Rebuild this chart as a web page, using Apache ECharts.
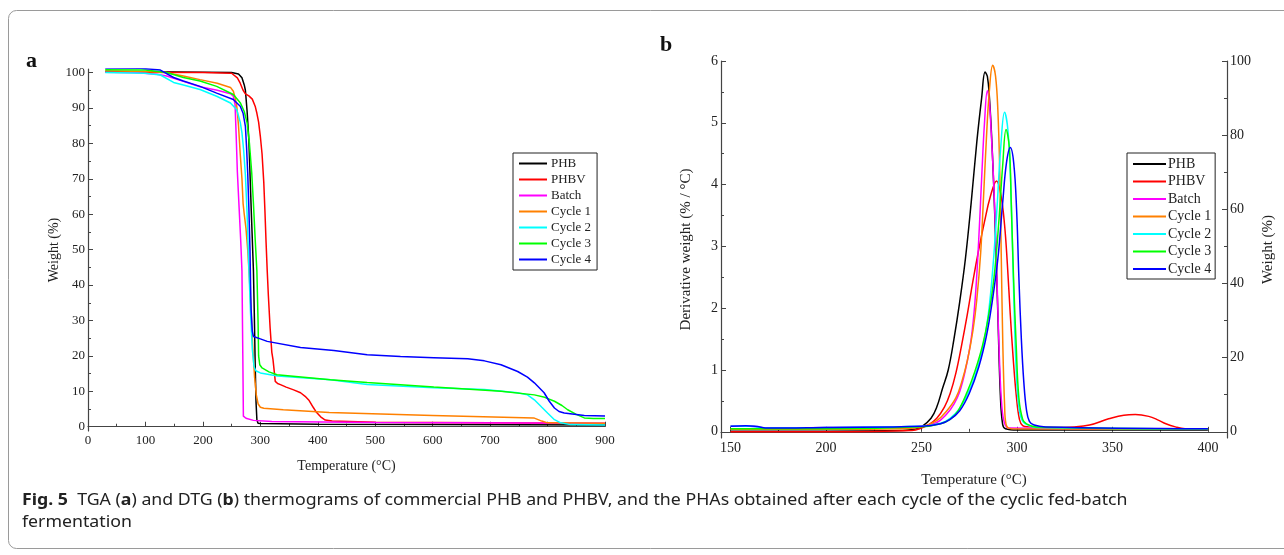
<!DOCTYPE html>
<html>
<head>
<meta charset="utf-8">
<script src="https://cdn.jsdelivr.net/npm/echarts@6/dist/echarts.min.js"></script>
<style>
  html, body { margin: 0; padding: 0; background: #fff; }
  #chart { width: 1284px; height: 555px; }
</style>
</head>
<body>
<div id="chart"></div>
<script>
// names + colours
const seriesNames = ['PHB', 'PHBV', 'Batch', 'Cycle 1', 'Cycle 2', 'Cycle 3', 'Cycle 4']
const seriesColors = ['#000000', '#ff0000', '#ff00ff', '#ff8000', '#00ffff', '#00ff00', '#0000ff']

// (a) TGA: [temperature, weight %]
const tgaPHB = [[30,100.2],[100,100.2],[200,100.1],[250,100],[262,99.6],[268,98.5],[272,96.5],[274,95],[277,89],[280,81],[284,62],[288,44],[289.5,32],[291,18],[292.5,7],[294,2],[296,1],[300,0.9],[400,0.7],[600,0.6],[900,0.5]]
const tgaPHBV = [[30,100.1],[200,100],[250,99.8],[260,98.5],[265,97],[270,95],[274,94],[280,93.4],[286,92.5],[291,90.5],[294,88.5],[297,86],[300,82],[303,77],[306,69],[308,61],[310,52],[312,44],[314,37],[317,28],[320,21],[322,19],[324,16],[326,12.8],[330,12.2],[335,11.9],[345,11.2],[358,10.4],[370,9.6],[378,8.6],[385,7.4],[392,5.5],[398,4],[405,2.8],[413,1.9],[425,1.6],[500,1.3],[700,1.1],[900,0.9]]
const tgaBatch = [[30,100.1],[80,100],[120,99.5],[137,99],[166,97.5],[195,96],[225,95],[248,94],[253,93.3],[256,91],[258,82],[260,72],[263,62],[266,52],[268,44],[269.5,20],[270.5,3],[275,2.4],[288,1.8],[320,1.5],[500,1.2],[900,1.0]]
const tgaCycle1 = [[30,100.5],[100,100.3],[135,100],[166,99],[195,98],[225,97],[248,95.8],[253,94.7],[256,93],[259,90.5],[262,85],[265,77],[268,70],[270,63],[272,60],[275,56],[278,50],[281,42],[284,32],[287,22],[290,14],[293,9],[296,6.5],[300,5.5],[306,5.2],[340,4.8],[420,4],[600,3.2],[776,2.5],[790,1.6],[800,1.1],[900,1.0]]
const tgaCycle2 = [[30,100],[100,99.8],[126,99.3],[149,97.2],[166,96.5],[195,95.2],[224,93.3],[248,91.4],[259,89.5],[265,86],[268,83],[271,78],[274,71],[277,60],[280,45],[283,32],[286,22],[289,17],[292,15.8],[300,15.2],[330,14.3],[422,13.3],[486,11.9],[602,11],[690,10.5],[748,9.6],[765,9],[777,7.6],[790,5.5],[800,3.9],[812,2],[823,1.1],[840,0.6],[900,0.5]]
const tgaCycle3 = [[30,100.8],[100,100.7],[137,100],[166,98.6],[195,97.6],[224,96.1],[253,93.8],[265,91.5],[272,89],[277,85.8],[281,80],[285,71.7],[288,63],[291,53],[294,44],[296,30],[297,20],[299,17.5],[303,16.6],[315,15.5],[329,14.7],[422,13.3],[486,12.5],[602,11.2],[719,10],[777,9],[795,8.3],[812,7.2],[825,6],[835,4.8],[850,3.5],[864,2.5],[880,2.3],[900,2.3]]
const tgaCycle4 = [[30,101.3],[92,101.2],[126,100.7],[149,98.6],[166,97.6],[195,96.1],[224,94.2],[253,92.4],[265,90.5],[270,88.5],[274,84.8],[276,79],[278,71.7],[280,62],[282,50],[283,40],[284,33],[286,27],[288,25.5],[300,24.8],[312,24.1],[370,22.4],[428,21.5],[486,20.3],[544,19.8],[602,19.5],[661,19.2],[690,18.6],[719,17.5],[748,15.6],[765,14],[777,12.4],[794,9.6],[803,7.2],[812,5.3],[820,4.3],[829,3.9],[864,3.2],[900,3.0]]

// (b) DTG: [temperature, derivative weight %/°C]
const dtgPHB = [[150,0.01],[200,0.01],[240,0.02],[246,0.04],[250,0.08],[255,0.22],[258,0.4],[261,0.7],[264,1.0],[267,1.5],[270,2.1],[273,2.8],[276,3.7],[279,4.7],[281.5,5.4],[283.3,5.82],[284.5,5.75],[285.6,5.4],[287,4.6],[288.5,3.4],[290,1.9],[291.3,0.6],[292.5,0.12],[294,0.05],[300,0.03],[400,0.03]]
const dtgPHBV = [[150,0.0],[200,0.0],[245,0.02],[250,0.06],[254,0.12],[258,0.22],[262,0.4],[265,0.62],[268,0.95],[271,1.4],[274,1.9],[277,2.45],[280,2.95],[283,3.4],[286,3.8],[289.3,4.06],[291.5,3.85],[293.5,3.35],[295,2.7],[296.5,1.9],[298,1.2],[299.6,0.6],[301.3,0.2],[303,0.1],[306,0.08],[318,0.07],[330,0.08],[338,0.11],[348,0.21],[356,0.27],[362,0.28],[369,0.25],[374,0.19],[378,0.13],[383,0.08],[388,0.05],[400,0.04]]
const dtgBatch = [[150,0.09],[160,0.09],[170,0.06],[200,0.07],[240,0.08],[250,0.09],[258,0.15],[263,0.28],[267,0.45],[270,0.65],[273,1.0],[276,1.5],[278,2.1],[279.8,3.0],[281.5,4.1],[283,5.0],[284.5,5.52],[285.5,5.35],[286.5,4.85],[288,3.9],[289.5,2.5],[290.8,1.2],[292,0.45],[293.5,0.14],[296,0.06],[400,0.04]]
const dtgCycle1 = [[150,0.04],[200,0.04],[240,0.05],[250,0.08],[258,0.18],[263,0.33],[268,0.55],[271,0.8],[274,1.15],[277,1.65],[279,2.15],[281,2.9],[282.5,3.8],[284,4.75],[285.5,5.5],[287.3,5.93],[288.8,5.75],[290,5.2],[291,4.2],[291.8,2.8],[292.6,1.4],[293.5,0.45],[294.3,0.12],[297,0.05],[400,0.04]]
const dtgCycle2 = [[150,0.09],[160,0.09],[170,0.06],[200,0.07],[250,0.09],[260,0.14],[265,0.22],[270,0.38],[274,0.6],[278,0.9],[282,1.35],[285,1.9],[287.5,2.7],[289.5,3.6],[291.5,4.6],[293.5,5.17],[295.2,4.9],[296.5,4.2],[297.5,3.2],[298.5,2.0],[299.6,1.0],[301,0.4],[303,0.17],[306.5,0.1],[310,0.07],[400,0.05]]
const dtgCycle3 = [[150,0.05],[200,0.05],[250,0.08],[260,0.13],[265,0.2],[269,0.33],[274,0.65],[278,0.98],[282,1.4],[285,1.85],[288,2.5],[290.5,3.4],[292.5,4.3],[294.3,4.89],[296,4.6],[297,3.7],[298.2,2.5],[299.6,1.4],[301,0.55],[303,0.2],[305,0.13],[310,0.08],[400,0.05]]
const dtgCycle4 = [[150,0.09],[158,0.1],[163,0.09],[170,0.06],[200,0.07],[250,0.09],[260,0.13],[265,0.2],[270,0.34],[275,0.62],[280,1.05],[284,1.55],[287,2.1],[290,2.8],[292.5,3.7],[294.5,4.35],[296.5,4.6],[298.3,4.35],[299.8,3.6],[301,2.5],[302.3,1.5],[303.6,0.8],[305,0.35],[306.5,0.17],[309,0.11],[315,0.08],[400,0.05]]

// ticks
const tgaXTicks = [0, 100, 200, 300, 400, 500, 600, 700, 800, 900]
const tgaXMinor = [50, 150, 250, 350, 450, 550, 650, 750, 850]
const tgaYTicks = [0, 10, 20, 30, 40, 50, 60, 70, 80, 90, 100]
const tgaYMinor = [5, 15, 25, 35, 45, 55, 65, 75, 85, 95]
const dtgXTicks = [150, 200, 250, 300, 350, 400]
const dtgXMinor = [175, 225, 275, 325, 375]
const dtgYTicks = [0, 1, 2, 3, 4, 5, 6]
const dtgYMinor = [0.5, 1.5, 2.5, 3.5, 4.5, 5.5]
const dtgWTicks = [0, 20, 40, 60, 80, 100]
const dtgWMinor = [10, 30, 50, 70, 90]

const tgaData = [tgaPHB, tgaPHBV, tgaBatch, tgaCycle1, tgaCycle2, tgaCycle3, tgaCycle4]
const dtgData = [dtgPHB, dtgPHBV, dtgBatch, dtgCycle1, dtgCycle2, dtgCycle3, dtgCycle4]

const serif = 'Liberation Serif'
const axisColor = '#444'
const textColor = '#222'

// main axis + a twin that only carries the short minor ticks
const makeAxis = (gridIndex, min, max, ticks, minor, fontSize, extra) => {
  const main = Object.assign({
    type: 'value', gridIndex, min, max,
    splitLine: { show: false },
    axisLine: { show: true, lineStyle: { color: axisColor, width: 1.2 } },
    axisTick: { show: true, inside: true, length: 5, customValues: ticks, lineStyle: { color: axisColor } },
    axisLabel: { customValues: ticks, margin: 3, color: textColor, fontFamily: serif, fontSize }
  }, extra)
  const twin = {
    type: 'value', gridIndex, min, max,
    position: extra.position,
    splitLine: { show: false },
    axisLine: { show: false },
    axisTick: { show: true, inside: true, length: 3, customValues: minor, lineStyle: { color: axisColor } },
    axisLabel: { show: false }
  }
  return [main, twin]
}

const nameStyle = (size) => ({ color: textColor, fontFamily: serif, fontSize: size })

const xAxis = [
  ...makeAxis(0, 0, 900, tgaXTicks, tgaXMinor, 13, {
    position: 'bottom', name: 'Temperature (°C)', nameLocation: 'middle', nameGap: 28, nameTextStyle: nameStyle(14)
  }),
  ...makeAxis(1, 145, 410, dtgXTicks, dtgXMinor, 14, {
    position: 'bottom', name: 'Temperature (°C)', nameLocation: 'middle', nameGap: 35, nameTextStyle: nameStyle(15)
  })
]
const yAxis = [
  ...makeAxis(0, -1.2, 101, tgaYTicks, tgaYMinor, 13, {
    position: 'left', name: 'Weight (%)', nameLocation: 'middle', nameGap: 26, nameTextStyle: nameStyle(14)
  }),
  ...makeAxis(1, -0.1, 6, dtgYTicks, dtgYMinor, 14, {
    position: 'left', name: 'Derivative weight (% / °C)', nameLocation: 'middle', nameGap: 27, nameTextStyle: nameStyle(15)
  }),
  ...makeAxis(1, -0.1 * 100 / 6, 100, dtgWTicks, dtgWMinor, 14, {
    position: 'right', name: 'Weight (%)', nameLocation: 'middle', nameGap: 34, nameTextStyle: nameStyle(15)
  })
]

const series = []
seriesNames.forEach((name, i) => {
  series.push({
    name, type: 'line', xAxisIndex: 0, yAxisIndex: 0, data: tgaData[i],
    symbol: 'none', lineStyle: { color: seriesColors[i], width: 1.5 }, itemStyle: { color: seriesColors[i] },
    silent: true, animation: false
  })
})
seriesNames.forEach((name, i) => {
  series.push({
    name, type: 'line', xAxisIndex: 2, yAxisIndex: 2, data: dtgData[i],
    symbol: 'none', smooth: 0.4,
    lineStyle: { color: seriesColors[i], width: 1.5 }, itemStyle: { color: seriesColors[i] },
    silent: true, animation: false
  })
})

const legendBase = {
  orient: 'vertical', data: seriesNames, backgroundColor: '#fff', icon: 'rect',
  borderColor: '#222', borderWidth: 1, selectedMode: false
}

const captionFont = 'Noto Sans'
const option = {
  animation: false,
  backgroundColor: '#fff',
  grid: [
    { left: 88, top: 69, right: 679, bottom: 124, containLabel: false },
    { left: 721, top: 61, right: 57, bottom: 117, containLabel: false }
  ],
  xAxis,
  yAxis,
  legend: [
    Object.assign({}, legendBase, {
      left: 513, top: 153, itemWidth: 28, itemHeight: 2, itemGap: 3, padding: [4, 6, 4, 6],
      textStyle: { color: textColor, fontFamily: serif, fontSize: 13, padding: [0, 0, 0, -1] }
    }),
    Object.assign({}, legendBase, {
      left: 1127, top: 153, itemWidth: 33, itemHeight: 2, itemGap: 3.5, padding: [4, 4, 3, 6],
      textStyle: { color: textColor, fontFamily: serif, fontSize: 14, padding: [0, 0, 0, -3] }
    })
  ],
  series,
  graphic: [
    { type: 'rect', shape: { x: 8.5, y: 10.5, width: 1320, height: 538, r: 8 }, style: { fill: 'none', stroke: '#9a9a9a', lineWidth: 1 }, silent: true },
    { type: 'text', left: 26, top: 50, style: { text: 'a', fontFamily: serif, fontWeight: 'bold', fontSize: 22, fill: '#111' } },
    { type: 'text', left: 660, top: 34, style: { text: 'b', fontFamily: serif, fontWeight: 'bold', fontSize: 22, fill: '#111' } },
    {
      type: 'text', x: 22, y: 492, scaleX: 1.108,
      style: {
        text: '{b|Fig. 5}  TGA ({b|a}) and DTG ({b|b}) thermograms of commercial PHB and PHBV, and the PHAs obtained after each cycle of the cyclic fed-batch',
        fontFamily: captionFont, fontSize: 16, fill: '#222',
        rich: { b: { fontFamily: captionFont, fontSize: 16, fontWeight: 'bold', fill: '#222' } }
      }
    },
    { type: 'text', x: 22, y: 514, scaleX: 1.108, style: { text: 'fermentation', fontFamily: captionFont, fontSize: 16, fill: '#222' } }
  ]
}

const myChart = echarts.init(document.getElementById('chart'), null, { renderer: 'canvas' })
myChart.setOption(option)
</script>
</body>
</html>
